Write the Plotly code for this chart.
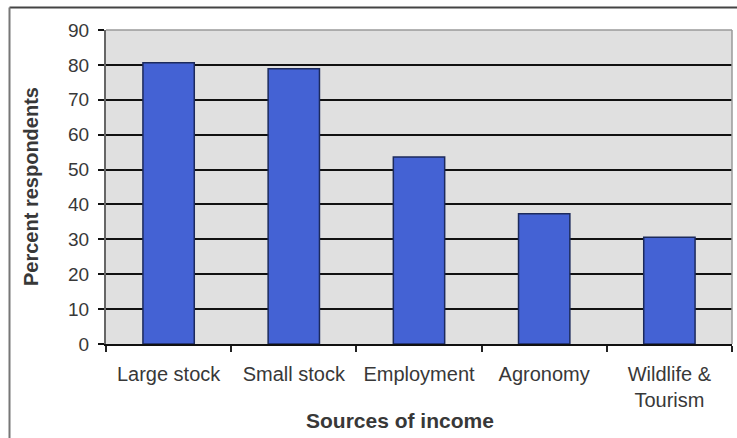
import plotly.graph_objects as go

# Survey results: share of respondents reporting each source of income
categories = ["Large stock", "Small stock", "Employment", "Agronomy", "Wildlife &<br>Tourism"]
percent_respondents = [80.6, 78.9, 53.6, 37.3, 30.6]
y_ticks = [0, 10, 20, 30, 40, 50, 60, 70, 80, 90]

W, H = 737, 438
L, R, T, B = 106, 5, 30, 94
PW, PH = W - L - R, H - T - B


def px_x(px):
    return (px - L) / PW


def px_y(py):
    return (H - B - py) / PH


FONT = "Liberation Sans, Arial, sans-serif"
TEXT = "#383838"

fig = go.Figure(
    go.Bar(
        x=categories,
        y=percent_respondents,
        marker=dict(color="#4462d4", line=dict(color="#1c2a5c", width=1.5)),
        width=0.41,
    )
)

fig.update_layout(
    width=W,
    height=H,
    margin=dict(l=L, r=R, t=T, b=B),
    paper_bgcolor="white",
    plot_bgcolor="#e0e0e0",
    showlegend=False,
    font=dict(family=FONT, color=TEXT),
    xaxis=dict(
        type="category",
        tickson="boundaries",
        ticks="outside",
        ticklen=6,
        tickwidth=1.5,
        tickcolor="#222",
        showgrid=False,
        showline=True,
        linecolor="#111",
        linewidth=2,
        tickfont=dict(size=20, color=TEXT),
        ticklabelstandoff=11,
    ),
    yaxis=dict(
        range=[0, 90],
        tickvals=y_ticks,
        ticks="outside",
        ticklen=6,
        tickwidth=2,
        tickcolor="#111",
        showgrid=True,
        gridcolor="#111",
        gridwidth=2,
        zeroline=False,
        showline=True,
        linecolor="#666",
        linewidth=2,
        tickfont=dict(size=19, color=TEXT),
        ticklabelstandoff=5,
    ),
    shapes=[
        # plot area border on top and right
        dict(type="line", xref="paper", yref="paper", x0=0, x1=1, y0=1, y1=1,
             line=dict(color="#9a9a9a", width=1.5)),
        dict(type="line", xref="paper", yref="paper", x0=1, x1=1, y0=0, y1=1,
             line=dict(color="#9a9a9a", width=1.5)),
        # outer chart frame
        dict(type="line", xref="paper", yref="paper",
             x0=px_x(9.5), x1=px_x(745), y0=px_y(7.5), y1=px_y(7.5),
             line=dict(color="#444", width=2)),
        dict(type="line", xref="paper", yref="paper",
             x0=px_x(9.5), x1=px_x(9.5), y0=px_y(7.5), y1=px_y(445),
             line=dict(color="#777", width=2)),
    ],
    annotations=[
        dict(text="<b>Sources of income</b>", xref="paper", yref="paper",
             x=px_x(400), y=px_y(420), showarrow=False,
             xanchor="center", yanchor="middle",
             font=dict(size=21, color=TEXT, family=FONT)),
        dict(text="<b>Percent respondents</b>", xref="paper", yref="paper",
             x=px_x(31), y=px_y(187), showarrow=False, textangle=-90,
             xanchor="center", yanchor="middle",
             font=dict(size=20, color=TEXT, family=FONT)),
    ],
)

fig.write_html("out.html")
